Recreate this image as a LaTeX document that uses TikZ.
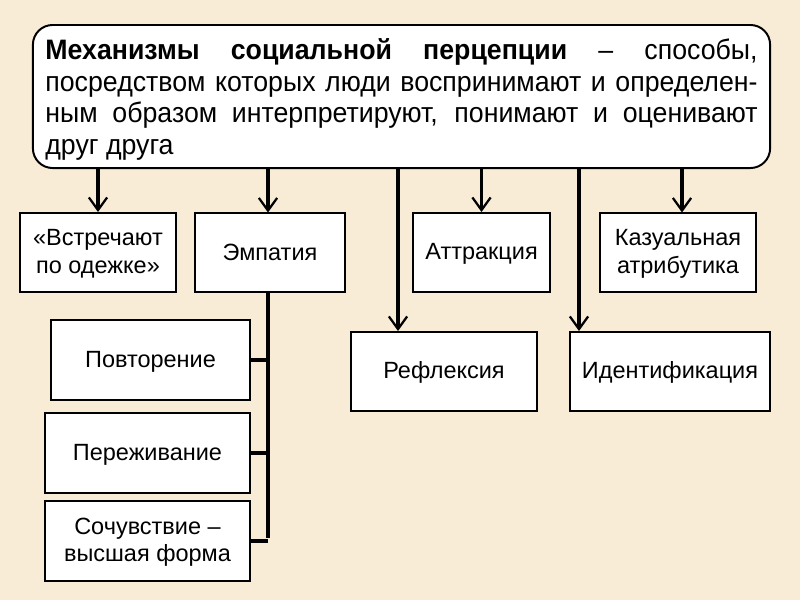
\documentclass[tikz,border=0pt]{standalone}
\usepackage{fontspec}
\setmainfont{Liberation Sans}
\newfontfamily\framefont{Liberation Sans}[FakeStretch=0.95]
\usetikzlibrary{arrows.meta}

\definecolor{parchment}{RGB}{248,236,214}
\newcommand\boxstrut{\rule[-2pt]{0pt}{15.5pt}}

\tikzset{
  box/.style={draw, line width=1.4pt, fill=white, inner sep=0pt,
    minimum height=1.975cm, align=center,
    font=\fontsize{16.7}{19.6}\selectfont},
  link/.style={line width=2.4pt,
    -{Straight Barb[length=9pt,width=13pt,line width=1.6pt]}},
  branch/.style={line width=2.4pt},
}

\begin{document}
\begin{tikzpicture}[x=0.025cm, y=-0.025cm]

  % Background
  \fill[parchment] (0,0) rectangle (800,600);
  \useasboundingbox (0,0) rectangle (800,600);

  % Definition frame
  \node[draw, line width=1.4pt, fill=white, rounded corners=14pt,
        minimum width=18.425cm, minimum height=3.575cm, inner sep=0pt]
    (mech) at (401.5,96.5)
    {\parbox{17.8cm}{\vspace*{4pt}\framefont\fontsize{20}{22.5}\selectfont
      \textbf{Механизмы социальной перцепции} – способы,\linebreak
      посредством которых люди воспринимают и определен-\linebreak
      ным образом интерпретируют, понимают и оценивают\linebreak
      друг друга}};

  % Upper row
  \node[box, minimum width=3.9cm]   (clothes) at (98,252.5)  {«Встречают\boxstrut\\по одежке»\boxstrut};
  \node[box, minimum width=3.75cm]  (empathy) at (270,252.5) {Эмпатия\boxstrut};
  \node[box, minimum width=3.425cm] (attract) at (481.5,252.5) {Аттракция\boxstrut};
  \node[box, minimum width=3.9cm]   (causal)  at (678,252.5) {Казуальная\boxstrut\\атрибутика\boxstrut};

  % Lower row
  \node[box, minimum width=4.65cm] (reflex) at (444,371.5) {Рефлексия\boxstrut};
  \node[box, minimum width=5cm]    (ident)  at (670,371.5) {Идентификация\boxstrut};

  % Empathy stages
  \node[box, minimum width=4.975cm, minimum height=2cm] (repeat) at (150.5,360) {Повторение\boxstrut};
  \node[box, minimum width=5.125cm, minimum height=2cm] (feel)   at (147.5,453) {Переживание\boxstrut};
  \node[box, minimum width=5.125cm, minimum height=2cm] (sympa)  at (147.5,541) {Сочувствие –\boxstrut\\высшая форма\boxstrut};

  % Entry points
  \coordinate (reflexIn) at ([xshift=1.2cm]reflex.north west);
  \coordinate (identIn)  at ([xshift=0.25cm]ident.north west);
  \coordinate (spine)    at (268,538);

  % Arrows from the frame
  \draw[link] (mech.south -| clothes) -- (clothes);
  \draw[link] (mech.south -| 268,0) -- (268,212.5);
  \draw[link] (mech.south -| attract) -- (attract);
  \draw[link] (mech.south -| 682,0) -- (682,212.5);
  \draw[link] (mech.south -| reflexIn) -- (reflexIn);
  \draw[link] (mech.south -| identIn) -- (identIn);

  % Empathy spine
  \draw[branch] (empathy.south -| spine) -- (spine);
  \draw[branch] (repeat.east) -- (repeat.east -| spine);
  \draw[branch] (feel.east) -- (feel.east -| spine);
  \draw[branch] (sympa.east) -- (sympa.east -| spine);

\end{tikzpicture}
\end{document}
